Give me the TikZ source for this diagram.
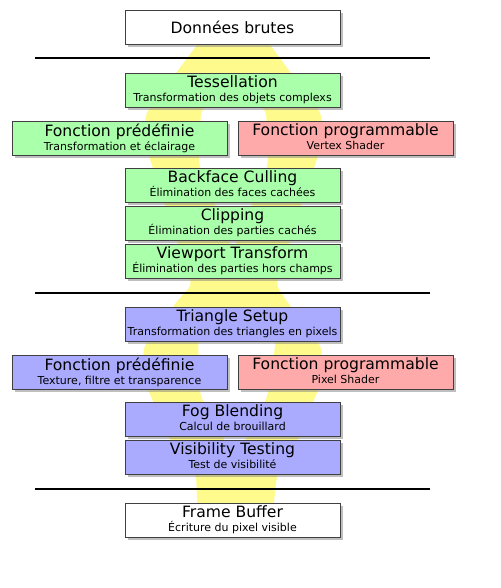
\documentclass[tikz,border=0pt]{standalone}
\usepackage{fontspec}
\setmainfont{DejaVu Sans}
\usepackage{xcolor}
\usepackage{tikz}
\usetikzlibrary{positioning, calc, shadows}

\definecolor{vertexgreen}{HTML}{AAFFAA}
\definecolor{pixelblue}{HTML}{AAAAFF}
\definecolor{shaderred}{HTML}{FFAAAA}
\definecolor{fluxyellow}{HTML}{FFFA8C}

\newcommand{\titre}{\fontsize{15.6}{14}\selectfont}
\newcommand{\etape}[2]{{\titre\vphantom{f}#1}\\#2\vphantom{p}}

\begin{document}
\begin{tikzpicture}[
        x=1pt, y=-1pt,
        font=\fontsize{11}{14}\selectfont,
        % Style d'une étape du pipeline
        stage/.style={
            draw=black!75,
            line width=0.8pt,
            rectangle,
            minimum width=215pt,
            minimum height=34pt,
            inner sep=0pt,
            outer sep=0pt,
            align=center,
            drop shadow={shadow xshift=3pt, shadow yshift=-3pt}
        },
        % Styles par type d'étape
        vertexstage/.style={stage, fill=vertexgreen},
        pixelstage/.style={stage, fill=pixelblue},
        shaderstage/.style={stage, fill=shaderred},
        datastage/.style={stage, fill=white},
        % Style pour le flux jaune et les séparations
        flux/.style={fill=fluxyellow, even odd rule, rounded corners=6pt},
        separator/.style={draw=black, line width=2pt}
    ]

        \useasboundingbox (0,0) rectangle (500,588);

        % 0. Flux de données en arrière-plan
        \fill[flux]
            (208,30) -- (145,115) -- (147,150) -- (168,215) -- (192,285)
            -- (178,300) -- (143,348) -- (146,385) -- (170,440) -- (196,475)
            -- (198,520) -- (272,520) -- (277,475) -- (298,440) -- (320,385)
            -- (322,348) -- (286,300) -- (276,285) -- (298,215) -- (320,150)
            -- (322,115) -- (259,30) -- cycle
            (233,88) -- (201,110) -- (199,165) -- (233,250) -- (268,165)
            -- (266,110) -- cycle
            (235,315) -- (198,340) -- (200,395) -- (235,460) -- (268,395)
            -- (276,340) -- cycle;

        % 1. Données brutes
        \node[datastage] (raw) at (232.5,27) {\titre Données brutes};

        % 2. Traitement des sommets
        \node[vertexstage, below=29pt of raw] (tess)
            {\etape{Tessellation}{Transformation des objets complexs}};
        \node[vertexstage, below=14pt of tess, xshift=-113pt] (fixvertex)
            {\etape{Fonction prédéfinie}{Transformation et éclairage}};
        \node[shaderstage, below=14pt of tess, xshift=113pt] (progvertex)
            {\etape{Fonction programmable}{Vertex Shader}};
        \node[vertexstage, below=61pt of tess] (cull)
            {\etape{Backface Culling}{Élimination des faces cachées}};
        \node[vertexstage, below=4pt of cull] (clip)
            {\etape{Clipping}{Élimination des parties cachés}};
        \node[vertexstage, below=4pt of clip] (view)
            {\etape{Viewport Transform}{Élimination des parties hors champs}};

        % 3. Traitement des pixels
        \node[pixelstage, below=29pt of view] (setup)
            {\etape{Triangle Setup}{Transformation des triangles en pixels}};
        \node[pixelstage, below=14pt of setup, xshift=-113pt] (fixpixel)
            {\etape{Fonction prédéfinie}{Texture, filtre et transparence}};
        \node[shaderstage, below=14pt of setup, xshift=113pt] (progpixel)
            {\etape{Fonction programmable}{Pixel Shader}};
        \node[pixelstage, below=61pt of setup] (fog)
            {\etape{Fog Blending}{Calcul de brouillard}};
        \node[pixelstage, below=4pt of fog] (vis)
            {\etape{Visibility Testing}{Test de visibilité}};

        % 4. Sortie
        \node[datastage, below=29pt of vis] (frame)
            {\etape{Frame Buffer}{Écriture du pixel visible}};

        % Séparations entre les phases
        \draw[separator] ($(raw.south)!.5!(tess.north)$) +(-197.5,0) -- +(197.5,0);
        \draw[separator] ($(view.south)!.5!(setup.north)$) +(-197.5,0) -- +(197.5,0);
        \draw[separator] ($(vis.south)!.5!(frame.north)$) +(-197.5,0) -- +(197.5,0);

    \end{tikzpicture}
\end{document}
